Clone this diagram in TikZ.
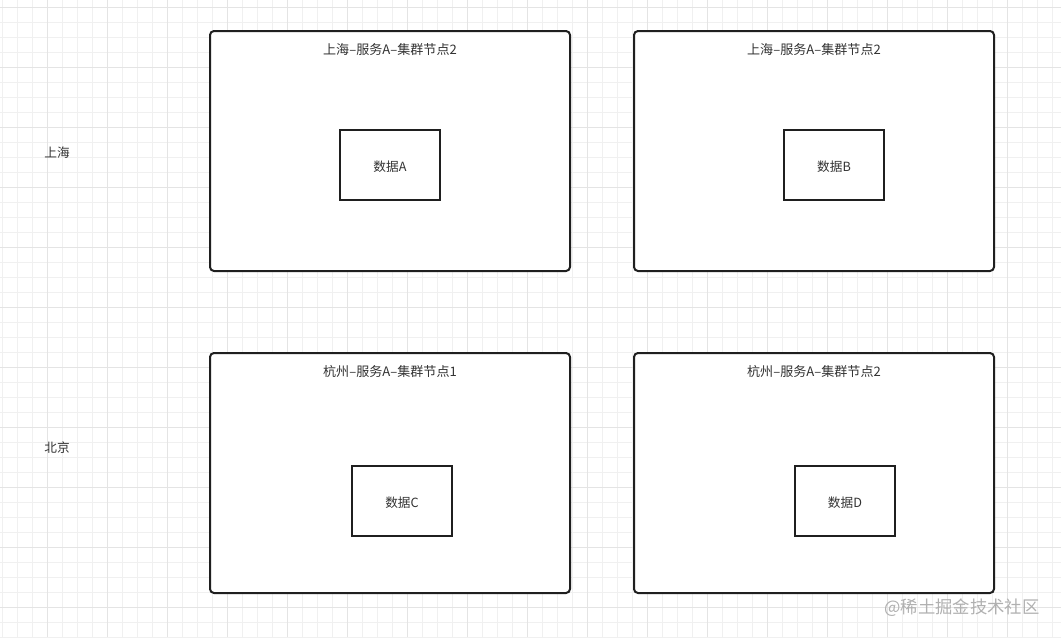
\documentclass[tikz,border=0pt]{standalone}
\usepackage{fontspec}
\newfontfamily\cjk{Noto Sans CJK SC}
\definecolor{gridminor}{HTML}{F0F0F0}
\definecolor{gridmajor}{HTML}{E4E4E4}
\definecolor{boxline}{HTML}{1F1F1F}
\definecolor{txt}{HTML}{333333}
\definecolor{wm}{HTML}{B0B0B0}
\tikzset{
  outerbox/.style={draw=boxline, line width=1.5pt, fill=white, rounded corners=3pt},
  innerbox/.style={draw=boxline, line width=1.4pt, fill=white, minimum width=75pt, minimum height=52.5pt, inner sep=0pt},
  boxtext/.style={font=\cjk\fontsize{9.5}{11}\selectfont, text=txt, inner sep=0pt},
  boxtitle/.style={font=\cjk\fontsize{9.8}{11}\selectfont, text=txt, inner sep=0pt},
  regionlabel/.style={font=\cjk\fontsize{9.5}{11}\selectfont, text=txt, inner sep=0pt},
}
\begin{document}
\begin{tikzpicture}[x=0.75pt,y=-0.75pt]
\useasboundingbox (0,0) rectangle (1061,637);
\fill[white] (0,0) rectangle (1061,637);
% grid
\foreach \gx in {2,17,...,1061} \draw[gridminor, line width=0.6pt] (\gx,0) -- (\gx,637);
\foreach \gy in {7,22,...,637} \draw[gridminor, line width=0.6pt] (0,\gy) -- (1061,\gy);
\foreach \gx in {47,107,...,1061} \draw[gridmajor, line width=0.7pt] (\gx,0) -- (\gx,637);
\foreach \gy in {7,67,...,637} \draw[gridmajor, line width=0.7pt] (0,\gy) -- (1061,\gy);
% outer boxes
\draw[outerbox] (210,31) rectangle (570,271);
\draw[outerbox] (634,31) rectangle (994,271);
\draw[outerbox] (210,353) rectangle (570,593);
\draw[outerbox] (634,353) rectangle (994,593);
\node[boxtitle] (t1) at (390,50) {上海–服务A–集群节点2};
\node[boxtitle] (t2) at (814,50) {上海–服务A–集群节点2};
\node[boxtitle] (t3) at (390,372) {杭州–服务A–集群节点1};
\node[boxtitle] (t4) at (814,372) {杭州–服务A–集群节点2};
% inner boxes
\node[innerbox] (a) at (390,165) {};
\node[innerbox] (b) at (834,165) {};
\node[innerbox] (c) at (402,501) {};
\node[innerbox] (d) at (845,501) {};
\node[boxtext] (al) at (390,166.5) {数据A};
\node[boxtext] (bl) at (834,166.5) {数据B};
\node[boxtext] (cl) at (402,502.5) {数据C};
\node[boxtext] (dl) at (845,502.5) {数据D};
% region labels
\node[regionlabel] (sh) at (57,153) {上海};
\node[regionlabel] (bj) at (57,448) {北京};
% watermark
\node[font=\cjk\fontsize{13}{15}\selectfont, text=wm, inner sep=0pt] (w) at (962,608) {@稀土掘金技术社区};
\end{tikzpicture}
\end{document}
